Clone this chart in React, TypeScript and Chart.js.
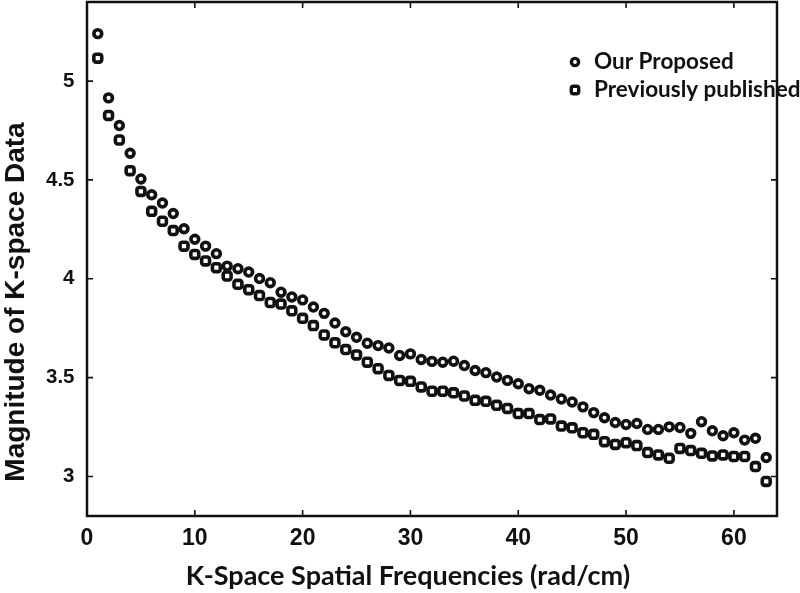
import React, { useEffect, useRef } from 'react';
import { Chart, registerables } from 'chart.js';

Chart.register(...registerables);

const frequencies = [
  1, 2, 3, 4, 5, 6, 7, 8, 9, 10, 11, 12, 13, 14, 15, 16, 17, 18, 19, 20, 21,
  22, 23, 24, 25, 26, 27, 28, 29, 30, 31, 32, 33, 34, 35, 36, 37, 38, 39, 40,
  41, 42, 43, 44, 45, 46, 47, 48, 49, 50, 51, 52, 53, 54, 55, 56, 57, 58, 59,
  60, 61, 62, 63,
];

const ourProposed = [
  5.24, 4.915, 4.775, 4.635, 4.505, 4.425, 4.383, 4.33, 4.253, 4.2, 4.165,
  4.127, 4.064, 4.051, 4.034, 4.001, 3.98, 3.932, 3.908, 3.893, 3.857, 3.825,
  3.776, 3.732, 3.704, 3.674, 3.662, 3.65, 3.612, 3.62, 3.592, 3.582, 3.578,
  3.583, 3.561, 3.536, 3.525, 3.503, 3.486, 3.469, 3.444, 3.436, 3.412, 3.392,
  3.377, 3.352, 3.323, 3.297, 3.273, 3.263, 3.268, 3.238, 3.238, 3.251, 3.248,
  3.218, 3.277, 3.231, 3.206, 3.221, 3.184, 3.193, 3.096,
];

const previouslyPublished = [
  5.116, 4.826, 4.702, 4.547, 4.442, 4.341, 4.291, 4.244, 4.165, 4.123, 4.09,
  4.056, 4.014, 3.972, 3.945, 3.915, 3.88, 3.872, 3.838, 3.8, 3.763, 3.716,
  3.676, 3.642, 3.615, 3.578, 3.545, 3.511, 3.486, 3.481, 3.453, 3.431, 3.431,
  3.423, 3.407, 3.385, 3.38, 3.36, 3.344, 3.318, 3.318, 3.288, 3.291, 3.255,
  3.246, 3.221, 3.213, 3.176, 3.162, 3.171, 3.156, 3.121, 3.109, 3.092, 3.142,
  3.131, 3.117, 3.104, 3.109, 3.101, 3.101, 3.05, 2.975,
];

const xTicks = [0, 10, 20, 30, 40, 50, 60];
const yTicks = [3, 3.5, 4, 4.5, 5];
const xTitle = 'K-Space Spatial Frequencies (rad/cm)';
const yTitle = 'Magnitude of K-space Data';
const seriesLabels = ['Our Proposed', 'Previously published'];

const INK = '#111111';
const HUMANIST_FONT = 'Lato, "Open Sans", sans-serif';
const ARIAL_FONT = '"Liberation Sans", Arial, sans-serif';

const framePlugin = {
  id: 'frame',
  afterDatasetsDraw(chart: any) {
    const { ctx, chartArea, scales } = chart;
    const { left, right, top, bottom } = chartArea;
    ctx.save();
    ctx.strokeStyle = INK;
    ctx.lineWidth = 2.5;
    ctx.strokeRect(left, top, right - left, bottom - top);
    ctx.lineWidth = 1.6;
    ctx.beginPath();
    scales.x.ticks.forEach((t: any) => {
      const p = scales.x.getPixelForValue(t.value);
      ctx.moveTo(p, bottom);
      ctx.lineTo(p, bottom - 6);
      ctx.moveTo(p, top);
      ctx.lineTo(p, top + 6);
    });
    scales.y.ticks.forEach((t: any) => {
      const p = scales.y.getPixelForValue(t.value);
      ctx.moveTo(left, p);
      ctx.lineTo(left + 6, p);
      ctx.moveTo(right, p);
      ctx.lineTo(right - 6, p);
    });
    ctx.stroke();
    ctx.restore();
  },
};

const axisTitlePlugin = {
  id: 'axisTitles',
  afterDraw(chart: any) {
    const { ctx, width, height, chartArea } = chart;
    ctx.save();
    ctx.fillStyle = INK;
    ctx.textAlign = 'center';
    ctx.textBaseline = 'middle';
    ctx.font = `bold 27px ${HUMANIST_FONT}`;
    ctx.fillText(xTitle, width / 2 + 8, height - 17);
    ctx.translate(16, chartArea.top + 300);
    ctx.rotate(-Math.PI / 2);
    ctx.font = `bold 28px ${ARIAL_FONT}`;
    ctx.fillText(yTitle, 0, 0);
    ctx.restore();
  },
};

const legendPlugin = {
  id: 'insideLegend',
  afterDraw(chart: any) {
    const { ctx, chartArea } = chart;
    const mx = chartArea.right - 202;
    const tx = chartArea.right - 183;
    ctx.save();
    chart.data.datasets.forEach((ds: any, i: number) => {
      const cy = chartArea.top + 60 + i * 28;
      ctx.lineWidth = 3.4;
      ctx.strokeStyle = INK;
      ctx.fillStyle = '#ffffff';
      ctx.beginPath();
      if (ds.pointStyle === 'circle') {
        ctx.arc(mx, cy, 3.6, 0, Math.PI * 2);
      } else {
        ctx.roundRect(mx - 3.7, cy - 3.7, 7.4, 7.4, 2);
      }
      ctx.fill();
      ctx.stroke();
      ctx.fillStyle = INK;
      ctx.font = `bold 22.5px ${HUMANIST_FONT}`;
      ctx.textBaseline = 'middle';
      ctx.textAlign = 'left';
      ctx.fillText(ds.label, tx, cy);
    });
    ctx.restore();
  },
};

export default function App() {
  const canvasRef = useRef<HTMLCanvasElement | null>(null);

  useEffect(() => {
    if (!canvasRef.current) return;
    const chart = new Chart(canvasRef.current, {
      type: 'scatter',
      data: {
        datasets: [
          {
            label: seriesLabels[0],
            data: frequencies.map((f, i) => ({ x: f, y: ourProposed[i] })),
            pointStyle: 'circle',
            pointRadius: 3.9,
            borderWidth: 3.6,
            borderColor: INK,
            backgroundColor: '#ffffff',
            showLine: false,
          },
          {
            label: seriesLabels[1],
            data: frequencies.map((f, i) => ({ x: f, y: previouslyPublished[i] })),
            pointStyle: 'rectRounded',
            pointRadius: 4.6,
            borderWidth: 3.6,
            borderColor: INK,
            backgroundColor: '#ffffff',
            showLine: false,
          },
        ],
      },
      options: {
        responsive: false,
        animation: false,
        events: [],
        layout: { autoPadding: false, padding: { left: 0, right: 23, top: 2, bottom: 0 } },
        plugins: {
          legend: { display: false },
          tooltip: { enabled: false },
          title: { display: false },
        },
        scales: {
          x: {
            type: 'linear',
            min: 0,
            max: 64,
            grid: { display: false, drawTicks: false },
            border: { display: false },
            afterBuildTicks: (scale: any) => {
              scale.ticks = xTicks.map((v) => ({ value: v }));
            },
            afterFit: (scale: any) => {
              scale.height = 77;
              scale.paddingLeft = 0;
              scale.paddingRight = 0;
            },
            ticks: {
              color: INK,
              padding: 11,
              maxRotation: 0,
              autoSkip: false,
              font: { family: ARIAL_FONT, size: 23, weight: 'bold', lineHeight: 1 },
              callback: (v: any) => String(v),
            },
          },
          y: {
            type: 'linear',
            min: 2.8,
            max: 5.4,
            grid: { display: false, drawTicks: false },
            border: { display: false },
            afterBuildTicks: (scale: any) => {
              scale.ticks = yTicks.map((v) => ({ value: v }));
            },
            afterFit: (scale: any) => {
              scale.width = 87;
              scale.paddingTop = 0;
              scale.paddingBottom = 0;
            },
            ticks: {
              color: INK,
              padding: 12.5,
              autoSkip: false,
              font: { family: ARIAL_FONT, size: 20.5, weight: 'bold', lineHeight: 1 },
              callback: (v: any) => String(v),
            },
          },
        },
      },
      plugins: [framePlugin, axisTitlePlugin, legendPlugin],
    });
    return () => chart.destroy();
  }, []);

  return (
    <div style={{ position: 'absolute', left: 0, top: 0, width: 800, height: 593, background: '#fff' }}>
      <canvas ref={canvasRef} width={800} height={593} />
    </div>
  );
}
